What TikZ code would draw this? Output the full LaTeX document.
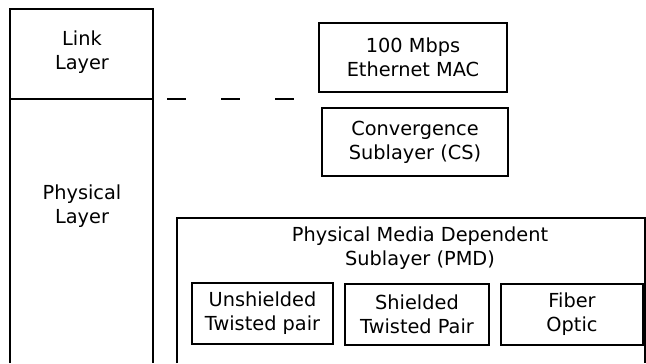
\documentclass[tikz,border=0pt]{standalone}
\usepackage{fontspec}
\setmainfont{DejaVu Sans}
\begin{document}
\begin{tikzpicture}[x=1cm,y=1cm,
  every node/.style={font=\fontsize{11}{13.6}\selectfont,align=center},
  box/.style={draw,thick,inner sep=0pt}]
\useasboundingbox (0,0) rectangle (12.92,7.26);
% left column
\draw[thick] (0.2,0) -- (0.2,7.08) -- (3.06,7.08) -- (3.06,0);
\draw[thick] (0.2,5.28) -- (3.06,5.28);
\node (link) at (1.64,6.22) {Link\\Layer};
\node (phys) at (1.64,3.14) {Physical\\Layer};

\coordinate (dashl) at (3.34,5.28);
\coordinate (dashr) at (5.94,5.28);
\draw[thick,dash pattern=on 0.38cm off 0.7cm] (dashl) -- (dashr);

\node[box,minimum width=3.76cm,minimum height=1.38cm] (mac) at (8.26,6.11) {100 Mbps\\Ethernet MAC};
\node[box,minimum width=3.72cm,minimum height=1.36cm] (cs) at (8.30,4.42) {Convergence\\Sublayer (CS)};

% PMD
\draw[thick] (3.54,0) -- (3.54,2.90) -- (12.90,2.90) -- (12.90,0);
\node (pmd) at (8.4,2.30) {Physical Media Dependent\\Sublayer (PMD)};
\node[box,minimum width=2.82cm,minimum height=1.22cm] (utp) at (5.25,0.99) {Unshielded\\Twisted pair};
\node[box,minimum width=2.88cm,minimum height=1.22cm] (stp) at (8.34,0.97) {Shielded\\Twisted Pair};
\node[box,minimum width=2.84cm,minimum height=1.22cm] (fiber) at (11.44,0.97) {Fiber\\Optic};
\end{tikzpicture}
\end{document}
